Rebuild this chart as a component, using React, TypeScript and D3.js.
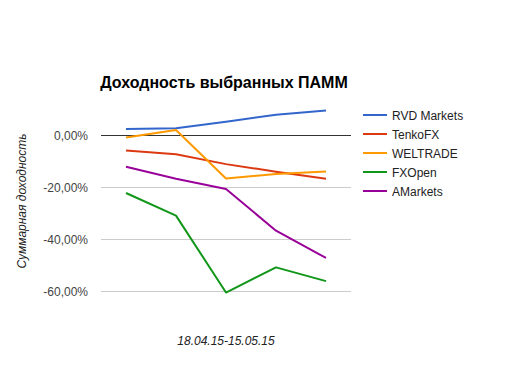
import React from "react";
import * as d3 from "d3";

const categories = ["1", "2", "3", "4", "5"];
const seriesNames = ["RVD Markets", "TenkoFX", "WELTRADE", "FXOpen", "AMarkets"];
const seriesColors = ["#3366cc", "#dc3912", "#ff9900", "#109618", "#990099"];
const rvd = [2.3, 2.6, 5.1, 7.8, 9.4];
const tenko = [-6.0, -7.4, -11.2, -14.1, -16.8];
const weltrade = [-1.0, 1.9, -16.7, -15.0, -14.0];
const fxopen = [-22.3, -31.0, -60.6, -50.9, -56.2];
const amarkets = [-12.2, -16.8, -20.8, -36.8, -47.3];
const seriesValues = [rvd, tenko, weltrade, fxopen, amarkets];
const yTicks = [0, -20, -40, -60];
const title = "Доходность выбранных ПАММ";
const yTitle = "Суммарная доходность";
const xTitle = "18.04.15-15.05.15";

export default function App() {
  const W = 529, H = 371;
  const left = 101, right = 351;
  const x = d3.scaleBand<string>().domain(categories).range([left, right]);
  const y = d3.scaleLinear().domain([-60, 0]).range([291, 135]);
  const line = d3
    .line<number>()
    .x((_, i) => (x(categories[i]) as number) + x.bandwidth() / 2)
    .y((d) => y(d));
  const fmt = (v: number) => v.toFixed(2).replace(".", ",") + "%";
  const font = "Arial, 'Liberation Sans', sans-serif";
  return (
    <svg
      width={W}
      height={H}
      style={{ position: "absolute", left: 0, top: 0, background: "#fff" }}
      fontFamily={font}
    >
      <text x={224} y={88} textAnchor="middle" fontSize={16} fontWeight="bold" fill="#000">
        {title}
      </text>
      {yTicks.map((t) => (
        <g key={t}>
          <line
            x1={left}
            x2={right}
            y1={Math.round(y(t)) + 0.5}
            y2={Math.round(y(t)) + 0.5}
            stroke={t === 0 ? "#333" : "#ccc"}
            strokeWidth={1}
          />
          <text x={88} y={y(t) + 4.5} textAnchor="end" fontSize={12} fill="#444">
            {fmt(t)}
          </text>
        </g>
      ))}
      {seriesValues.map((vals, i) => (
        <path
          key={i}
          d={line(vals) || ""}
          fill="none"
          stroke={seriesColors[i]}
          strokeWidth={2}
          strokeLinejoin="round"
        />
      ))}
      <text
        transform={`translate(26,201) rotate(-90)`}
        textAnchor="middle"
        fontSize={12}
        fontStyle="italic"
        fill="#222"
      >
        {yTitle}
      </text>
      <text x={226} y={345} textAnchor="middle" fontSize={12} fontStyle="italic" fill="#222">
        {xTitle}
      </text>
      {seriesNames.map((n, i) => (
        <g key={n}>
          <line x1={363} x2={387} y1={115 + i * 19} y2={115 + i * 19} stroke={seriesColors[i]} strokeWidth={2} />
          <text x={392} y={115 + i * 19 + 4.5} fontSize={12} fill="#222">
            {n}
          </text>
        </g>
      ))}
    </svg>
  );
}
